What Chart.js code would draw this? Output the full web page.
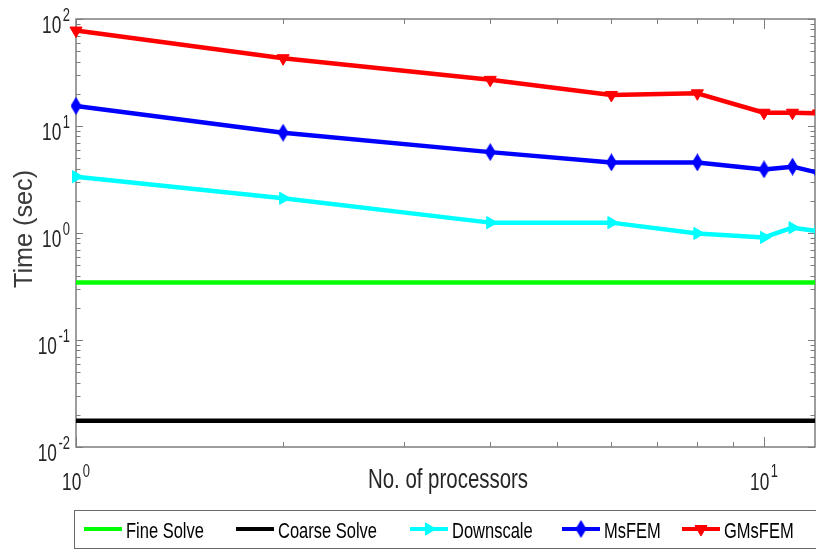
<!DOCTYPE html>
<html>
<head>
<meta charset="utf-8">
<title>Time vs. number of processors</title>
<script src="https://cdn.jsdelivr.net/npm/chart.js@4.4.1/dist/chart.umd.min.js"></script>
<style>
  html, body { margin: 0; padding: 0; background: #ffffff; }
  canvas { display: block; }
</style>
</head>
<body>
<canvas id="timing" width="816" height="550"></canvas>
<script>
// ---- data -------------------------------------------------------------
const processors  = [1, 2, 4, 6, 8, 10, 11, 12];
const fineSolve   = [0.345, 0.345, 0.345, 0.345, 0.345, 0.345, 0.345, 0.345];
const coarseSolve = [0.0176, 0.0176, 0.0176, 0.0176, 0.0176, 0.0176, 0.0176, 0.0176];
const downscale   = [3.36, 2.11, 1.25, 1.25, 0.99, 0.91, 1.12, 1.04];
const msfem       = [15.4, 8.65, 5.7, 4.57, 4.57, 3.93, 4.17, 3.65];
const gmsfem      = [78, 43, 27, 19.5, 20.2, 13.3, 13.3, 13.1];

const seriesNames = ['Fine Solve', 'Coarse Solve', 'Downscale', 'MsFEM', 'GMsFEM'];

// decade tick labels, written as base + exponent
const xTickValues = [1, 10];
const xTickExponents = ['0', '1'];
const yTickValues = [0.01, 0.1, 1, 10, 100];
const yTickExponents = ['-2', '-1', '0', '1', '2'];

const xTitle = 'No. of processors';
const yTitle = 'Time (sec)';

// ---- styling helpers --------------------------------------------------
const FONT = '"Liberation Sans", Arial, Helvetica, sans-serif';
const AXIS_COLOR = '#7d7d7d';
const TEXT_COLOR = '#262626';

// a tall, narrow diamond marker
function diamondMarker(color) {
  const c = document.createElement('canvas');
  c.width = 11; c.height = 18;
  const g = c.getContext('2d');
  g.fillStyle = color;
  g.beginPath();
  g.moveTo(5.5, 0); g.lineTo(11, 9); g.lineTo(5.5, 18); g.lineTo(0, 9);
  g.closePath(); g.fill();
  return c;
}

// condensed text: glyphs squeezed along the writing direction
function drawText(ctx, s, x, y, px, sx, align, color, rot) {
  ctx.save();
  ctx.translate(x, y);
  if (rot) ctx.rotate(rot);
  ctx.scale(sx, 1);
  ctx.font = px + 'px ' + FONT;
  ctx.fillStyle = color;
  ctx.textAlign = align || 'left';
  ctx.textBaseline = 'alphabetic';
  ctx.fillText(s, 0, 0);
  ctx.restore();
}
function textWidth(ctx, s, px, sx) {
  ctx.save();
  ctx.font = px + 'px ' + FONT;
  const w = ctx.measureText(s).width * sx;
  ctx.restore();
  return w;
}

const BASE_PX = 24, SUP_PX = 18, TICK_SX = 0.72;

// "10" with a raised exponent; (x, y) is the anchor of the whole label
function powerLabel(ctx, exp, x, baseY, supY, align) {
  const bw = textWidth(ctx, '10', BASE_PX, TICK_SX);
  const ew = textWidth(ctx, exp, SUP_PX, TICK_SX);
  const gap = 1.5;
  const total = bw + gap + ew;
  let x0 = x;
  if (align === 'right') x0 = x - total;
  else if (align === 'center') x0 = x - total / 2;
  drawText(ctx, '10', x0, baseY, BASE_PX, TICK_SX, 'left', TEXT_COLOR);
  drawText(ctx, exp, x0 + bw + gap, supY, SUP_PX, TICK_SX, 'left', TEXT_COLOR);
}

function isDecade(v) {
  const l = Math.log10(v);
  return Math.abs(l - Math.round(l)) < 1e-6;
}
function isWholeMantissa(v) {
  const m = v / Math.pow(10, Math.floor(Math.log10(v) + 1e-9));
  return Math.abs(m - Math.round(m)) < 1e-6;
}

// ---- axes box with inward ticks (under the data), labels and legend ---
const axesBox = {
  id: 'axesBox',
  beforeDatasetsDraw(chart) {
    const ctx = chart.ctx;
    const { left, right, top, bottom } = chart.chartArea;
    const xs = chart.scales.x, ys = chart.scales.y;
    ctx.save();
    ctx.strokeStyle = AXIS_COLOR;
    ctx.lineWidth = 1.5;
    ctx.strokeRect(left, top, right - left, bottom - top);
    ctx.lineWidth = 1;
    ctx.beginPath();
    for (const t of xs.ticks) {
      if (!isWholeMantissa(t.value)) continue;
      const px = Math.round(xs.getPixelForValue(t.value)) + 0.5;
      const len = isDecade(t.value) ? 10 : 5;
      ctx.moveTo(px, bottom); ctx.lineTo(px, bottom - len);
      ctx.moveTo(px, top);    ctx.lineTo(px, top + len);
    }
    for (const t of ys.ticks) {
      if (!isWholeMantissa(t.value)) continue;
      const py = Math.round(ys.getPixelForValue(t.value)) + 0.5;
      const len = isDecade(t.value) ? 7 : 4.5;
      ctx.moveTo(left, py);  ctx.lineTo(left + len, py);
      ctx.moveTo(right, py); ctx.lineTo(right - len, py);
    }
    ctx.stroke();
    ctx.restore();
  },
  afterDraw(chart) {
    const ctx = chart.ctx;
    const { left, bottom } = chart.chartArea;
    const xs = chart.scales.x, ys = chart.scales.y;

    // tick labels
    xTickValues.forEach((v, i) => {
      const px = xs.getPixelForValue(v);
      powerLabel(ctx, xTickExponents[i], px, bottom + 43, bottom + 30, 'center');
    });
    yTickValues.forEach((v, i) => {
      const py = ys.getPixelForValue(v);
      powerLabel(ctx, yTickExponents[i], left - 6, py + 14, py + 2, 'right');
    });

    // axis titles
    drawText(ctx, xTitle, 448, 488, 28, 0.73, 'center', TEXT_COLOR);
    drawText(ctx, yTitle, 32, 229, 26, 0.97, 'center', '#3a3a3a', -Math.PI / 2);

    // legend
    const legendLeft = 74, legendTop = 510, legendBottom = 549;
    ctx.save();
    ctx.strokeStyle = '#6a6a6a';
    ctx.lineWidth = 1;
    ctx.strokeRect(legendLeft + 0.5, legendTop + 0.5, chart.width, legendBottom - legendTop - 1);
    ctx.restore();

    const itemX = [84, 236, 410, 562, 682];
    const sampleLen = 38, sampleY = 529;
    chart.data.datasets.forEach((ds, i) => {
      const x0 = itemX[i];
      ctx.save();
      ctx.strokeStyle = ds.borderColor;
      ctx.lineWidth = 4;
      ctx.beginPath();
      ctx.moveTo(x0, sampleY); ctx.lineTo(x0 + sampleLen, sampleY);
      ctx.stroke();
      if (ds.pointRadius > 0) {
        ctx.fillStyle = ds.pointBackgroundColor;
        ctx.strokeStyle = ds.pointBorderColor;
        ctx.lineWidth = 1;
        Chart.helpers.drawPoint(ctx, {
          pointStyle: ds.pointStyle,
          rotation: ds.pointRotation || 0,
          radius: ds.pointRadius,
          borderWidth: 1
        }, x0 + sampleLen / 2, sampleY);
      }
      ctx.restore();
      drawText(ctx, ds.label, x0 + sampleLen + 4, 538, 22, 0.75, 'left', '#000000');
    });
  }
};

// ---- datasets ---------------------------------------------------------
function points(ys) {
  return processors.map((p, i) => ({ x: p, y: ys[i] }));
}
const lineBase = {
  borderWidth: 4.5,
  borderJoinStyle: 'round',
  borderCapStyle: 'butt',
  tension: 0,
  fill: false,
  clip: { left: false, top: false, right: 0, bottom: false }
};

const datasets = [
  Object.assign({}, lineBase, {
    label: seriesNames[0], data: points(fineSolve),
    borderColor: '#00ff00', pointRadius: 0
  }),
  Object.assign({}, lineBase, {
    label: seriesNames[1], data: points(coarseSolve),
    borderColor: '#000000', pointRadius: 0
  }),
  Object.assign({}, lineBase, {
    label: seriesNames[2], data: points(downscale),
    borderColor: '#00ffff', pointBackgroundColor: '#00ffff', pointBorderColor: '#00ffff',
    pointStyle: 'triangle', pointRotation: 90, pointRadius: 7, pointBorderWidth: 1
  }),
  Object.assign({}, lineBase, {
    label: seriesNames[3], data: points(msfem),
    borderColor: '#0000ff', pointBackgroundColor: '#0000ff', pointBorderColor: '#0000ff',
    pointStyle: diamondMarker('#0000ff'), pointRadius: 8, pointBorderWidth: 0
  }),
  Object.assign({}, lineBase, {
    label: seriesNames[4], data: points(gmsfem),
    borderColor: '#ff0000', pointBackgroundColor: '#ff0000', pointBorderColor: '#ff0000',
    pointStyle: 'triangle', pointRotation: 180, pointRadius: 7, pointBorderWidth: 1
  })
];

new Chart(document.getElementById('timing'), {
  type: 'line',
  data: { datasets },
  options: {
    responsive: false,
    animation: false,
    events: [],
    layout: { autoPadding: false, padding: { top: 19, right: 1, left: 0, bottom: 0 } },
    plugins: { legend: { display: false }, tooltip: { enabled: false } },
    scales: {
      x: {
        type: 'logarithmic', min: 1, max: 11.86,
        grid: { display: false }, border: { display: false },
        ticks: { display: false, autoSkip: false },
        afterFit(scale) { scale.height = 103; }
      },
      y: {
        type: 'logarithmic', min: 0.01, max: 100,
        grid: { display: false }, border: { display: false },
        ticks: { display: false, autoSkip: false },
        afterFit(scale) { scale.width = 76; }
      }
    }
  },
  plugins: [axesBox]
});
</script>
</body>
</html>
